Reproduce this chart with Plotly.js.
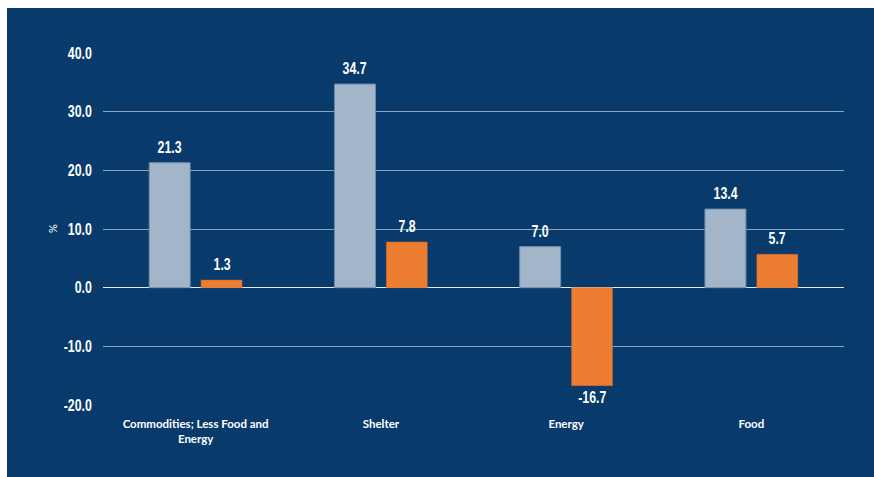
<!DOCTYPE html>
<html>
<head>
<meta charset="utf-8">
<script src="https://cdn.plot.ly/plotly-3.0.1.min.js"></script>
<style>
  html, body { margin: 0; padding: 0; background: #ffffff; width: 874px; height: 477px; overflow: hidden; }
  #chart { position: absolute; left: 7px; top: 8px; width: 867px; height: 469px; }
</style>
</head>
<body>
<div id="chart"></div>
<script>
const categories = ["Commodities; Less Food and<br>Energy", "Shelter", "Energy", "Food"];
const seriesA = [21.3, 34.7, 7.0, 13.4];
const seriesB = [1.3, 7.8, -16.7, 5.7];
const yTicks = [-20, -10, 0, 10, 20, 30, 40];

const bg = "#083b6b";
const numFont = { family: "Liberation Sans, Arial, sans-serif", size: 16, color: "#ffffff", weight: "bold" };
const fmt = v => (v < 0 ? "-" + Math.abs(v).toFixed(1) : v.toFixed(1));

const traces = [
  {
    type: "bar", x: categories, y: seriesA, name: "A",
    marker: { color: "#a2b5c9", line: { color: "#6d8cab", width: 1 } },
    hoverinfo: "none"
  },
  {
    type: "bar", x: categories, y: seriesB, name: "B",
    marker: { color: "#ed7d31", line: { color: "#c0682c", width: 0.5 } },
    hoverinfo: "none"
  }
];

const annotations = [];
function addLabels(vals, shift) {
  vals.forEach((v, i) => {
    annotations.push({
      x: categories[i], y: v, xref: "x", yref: "y",
      text: fmt(v),
      showarrow: false, xshift: shift,
      yanchor: v < 0 ? "top" : "bottom",
      yshift: v < 0 ? -1 : 5,
      font: numFont
    });
  });
}
addLabels(seriesA, -26);
addLabels(seriesB, 26);
annotations.push({
  text: "%", xref: "paper", yref: "paper", x: 0, y: 0.5, xanchor: "center", yanchor: "middle",
  xshift: -51, textangle: -90, showarrow: false,
  font: { family: "Lato, sans-serif", size: 11, color: "#ffffff" }
});

const layout = {
  width: 867, height: 469,
  paper_bgcolor: bg, plot_bgcolor: bg,
  margin: { l: 96, r: 30, t: 45, b: 71.5 },
  barmode: "group", bargap: 0.44, bargroupgap: 0.21,
  showlegend: false,
  xaxis: {
    type: "category",
    showgrid: false, zeroline: false, showline: false,
    ticks: "outside", ticklen: 8, tickcolor: "rgba(0,0,0,0)",
    tickfont: { family: "Lato, Carlito, sans-serif", size: 11.5, color: "#ffffff", weight: "bold" },
    fixedrange: true
  },
  yaxis: {
    range: [-20, 40],
    tickvals: yTicks,
    ticktext: yTicks.map(fmt),
    showgrid: true, gridcolor: "#8da3bb", gridwidth: 1,
    zeroline: true, zerolinecolor: "#e6e9ee", zerolinewidth: 1.5,
    showline: false,
    ticks: "outside", ticklen: 7, tickcolor: "rgba(0,0,0,0)",
    tickfont: numFont,
    fixedrange: true
  },
  annotations: annotations
};

Plotly.newPlot("chart", traces, layout, { displayModeBar: false, staticPlot: true }).then(gd => {
  // emulate the condensed numeric face of the original
  const nodes = gd.querySelectorAll(".ytick text, .annotation-text");
  nodes.forEach(t => {
    if (t.textContent === "%") return;
    const w = t.getComputedTextLength();
    t.setAttribute("textLength", (w * 0.77).toFixed(2));
    t.setAttribute("lengthAdjust", "spacingAndGlyphs");
  });
});
</script>
</body>
</html>
